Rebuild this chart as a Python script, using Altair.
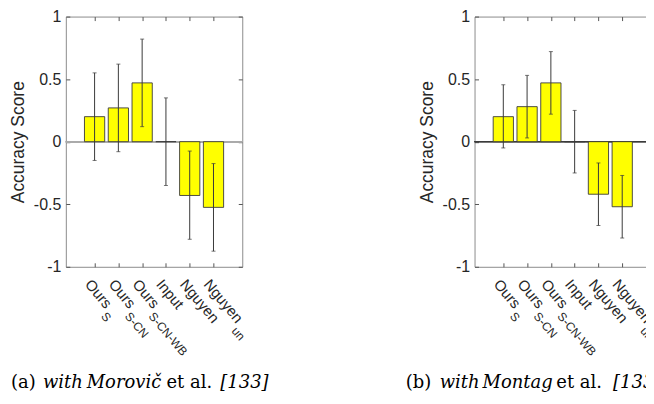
import math
import altair as alt
import pandas as pd

# ---------------- data ----------------
categories = ["Ours", "Ours", "Ours", "Input", "Nguyen", "Nguyen"]
subscripts = ["S", "S-CN", "S-CN-WB", "", "", "un"]
positions = [1, 2, 3, 4, 5, 6]

left_scores = [0.20, 0.27, 0.47, 0.0, -0.43, -0.525]
left_low = [-0.15, -0.08, 0.12, -0.35, -0.78, -0.875]
left_high = [0.55, 0.62, 0.82, 0.35, -0.075, -0.175]

right_scores = [0.20, 0.28, 0.47, 0.0, -0.42, -0.52]
right_low = [-0.05, 0.03, 0.22, -0.25, -0.67, -0.77]
right_high = [0.455, 0.53, 0.72, 0.25, -0.17, -0.27]

y_ticks = [-1, -0.5, 0, 0.5, 1]
y_title = "Accuracy Score"

caption_a_text = ["(a)", "with", "Morovič", "et al.", "[133]"]
caption_b_text = ["(b)", "with", "Montag", "et al.", "[133]"]
caption_italic = [False, True, True, False, True]

# ---------------- layout / style ----------------
W, H = 177, 251
X_DOMAIN = [0, 7]
Y_DOMAIN = [-1, 1]
SANS = "Liberation Sans"
SERIF = "DejaVu Serif"
INK = "#262626"
BOX = "#8c8c8c"
TICK = "#555555"
MAIN_FS = 15
SUB_FS = 12
ANGLE = 50
LAB_DX, LAB_DY = 7.0, 7.5
SUB_DROP = 10
SUB_GAP = 3.4
CAP_FS = 18

ARIAL = {"O": .778, "u": .556, "r": .333, "s": .5, "I": .278, "n": .556,
         "p": .556, "t": .278, "N": .722, "g": .556, "y": .5, "e": .556}


def text_width(t, fs):
    return sum(ARIAL.get(c, .556) for c in t) * fs


PX_X = W / (X_DOMAIN[1] - X_DOMAIN[0])
PX_Y = H / (Y_DOMAIN[1] - Y_DOMAIN[0])
COS = math.cos(math.radians(ANGLE))
SIN = math.sin(math.radians(ANGLE))


def panel(scores, low, high, zero_color, zero_width, cap_text, cap_offsets):
    shift = [text_width(t, MAIN_FS) + SUB_GAP for t in categories]
    df = pd.DataFrame({
        "pos": positions, "score": scores, "low": low, "high": high,
        "main": categories, "sub": subscripts,
        "xs": [p + s * COS / PX_X for p, s in zip(positions, shift)],
        "ys": [Y_DOMAIN[0] - s * SIN / PX_Y for s in shift],
    })
    xs = alt.Scale(domain=X_DOMAIN, nice=False, zero=False)
    ys = alt.Scale(domain=Y_DOMAIN, nice=False, zero=False)
    base = alt.Chart(df)

    zero = base.mark_rule(color=zero_color, strokeWidth=zero_width).encode(
        y=alt.YDatum(0, scale=ys, axis=None))

    bars = base.mark_bar(size=20.3, color="#ffff00", stroke="#3a3a3a",
                         strokeWidth=0.9).encode(
        x=alt.X("pos:Q", scale=xs, axis=alt.Axis(
            orient="bottom", values=positions, labels=False, title=None,
            tickSize=4, offset=-4, tickColor=TICK, domain=False, grid=False)),
        y=alt.Y("score:Q", scale=ys, axis=alt.Axis(
            orient="left", values=y_ticks, labelExpr="'' + datum.value",
            title=y_title, titleFont=SANS, titleFontSize=17.5,
            titleFontWeight="normal", titleColor=INK, titlePadding=6,
            labelFont=SANS, labelFontSize=16, labelColor=INK,
            labelPadding=5, labelOverlap=False, tickSize=4, offset=-4,
            tickColor=TICK, domain=False, grid=False)),
    )

    err = base.mark_rule(color="#3a3a3a", strokeWidth=1).encode(
        x=alt.X("pos:Q", scale=xs, axis=alt.Axis(
            orient="top", values=positions, labels=False, title=None,
            tickSize=4, offset=-4, tickColor=TICK, domain=False, grid=False)),
        y=alt.Y("low:Q", scale=ys, axis=alt.Axis(
            orient="right", values=y_ticks, labels=False, title=None,
            tickSize=4, offset=-4, tickColor=TICK, domain=False, grid=False)),
        y2="high:Q",
    )
    cap_lo = base.mark_tick(orient="horizontal", size=4, thickness=1,
                            color="#3a3a3a").encode(
        x=alt.X("pos:Q", scale=xs, axis=None),
        y=alt.Y("low:Q", scale=ys, axis=None))
    cap_hi = base.mark_tick(orient="horizontal", size=4, thickness=1,
                            color="#3a3a3a").encode(
        x=alt.X("pos:Q", scale=xs, axis=None),
        y=alt.Y("high:Q", scale=ys, axis=None))

    lab_main = base.mark_text(angle=ANGLE, align="left", baseline="top",
                              dx=LAB_DX, dy=LAB_DY, font=SANS,
                              fontSize=MAIN_FS, color=INK).encode(
        x=alt.X("pos:Q", scale=xs, axis=None),
        y=alt.YDatum(Y_DOMAIN[0], scale=ys, axis=None),
        text="main:N")
    lab_sub = base.mark_text(angle=ANGLE, align="left", baseline="top",
                             dx=LAB_DX, dy=LAB_DY + SUB_DROP, font=SANS,
                             fontSize=SUB_FS, color=INK).encode(
        x=alt.X("xs:Q", scale=xs, axis=None),
        y=alt.Y("ys:Q", scale=ys, axis=None),
        text="sub:N")

    cap_df = pd.DataFrame({"t": cap_text, "off": cap_offsets,
                           "it": caption_italic})
    capbase = alt.Chart(cap_df)
    cap_layers = []
    for italic in (False, True):
        cap_layers.append(
            capbase.transform_filter(
                "datum.it" if italic else "!datum.it"
            ).mark_text(align="left", baseline="alphabetic", font=SERIF,
                        fontSize=CAP_FS, color="black",
                        fontStyle="italic" if italic else "normal").encode(
                x=alt.X("off:Q", scale=None, axis=None),
                y=alt.value(373),
                text="t:N"))

    return alt.layer(zero, bars, err, cap_lo, cap_hi, lab_main, lab_sub,
                     *cap_layers).resolve_axis(
        x="independent", y="independent").properties(width=W, height=H)


left = panel(left_scores, left_low, left_high, "#aaaaaa", 1.5,
             caption_a_text, [-55, -23, 21, 101, 155])
right = panel(right_scores, right_low, right_high, "#3c3c3c", 1,
              caption_b_text, [-69, -35, 8, 82, 139])

chart = alt.hconcat(left, right, spacing=233, bounds="flush").properties(
    padding={"left": 0, "top": -1, "right": -16, "bottom": 0}
).configure_view(stroke=BOX, strokeWidth=1)

chart.save("out.html", embed_options={"renderer": "svg", "actions": False})
